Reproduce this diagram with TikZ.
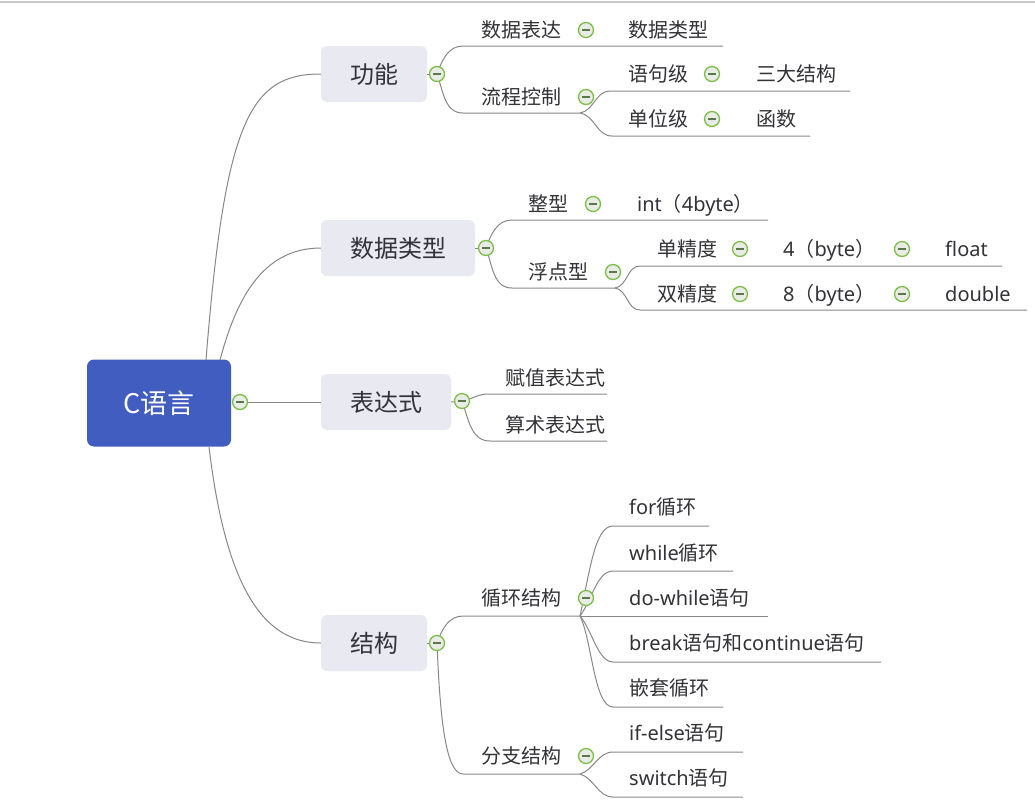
\documentclass[tikz,border=0pt]{standalone}
\usepackage{fontspec}
\setmainfont{Noto Sans CJK SC}
\newfontfamily\lat{Noto Sans}
\definecolor{rootc}{RGB}{64,93,191}
\definecolor{lonec}{RGB}{233,233,242}
\definecolor{txtc}{RGB}{50,50,55}
\definecolor{linec}{RGB}{135,135,135}
\definecolor{ringc}{RGB}{125,190,72}
\definecolor{btnfill}{RGB}{232,235,230}
\definecolor{minusc}{RGB}{90,120,75}
\definecolor{topc}{RGB}{200,200,200}
\begin{document}
\begin{tikzpicture}[x=1pt,y=-1pt,
  root/.style={rectangle, rounded corners=7pt, fill=rootc, text=white, inner sep=0pt,
    minimum width=144pt, minimum height=87pt, font=\fontsize{27}{30}\selectfont},
  lone/.style={rectangle, rounded corners=6pt, fill=lonec, text=txtc, inner sep=0pt,
    minimum height=56pt, font=\fontsize{24}{28}\selectfont},
  ttwo/.style={anchor=west, inner sep=0pt, text=txtc, text height=17.5pt, text depth=2.5pt,
    font=\fontsize{20}{24}\selectfont},
  link/.style={draw=linec, line width=1pt},
  coll/.style={circle, minimum size=15pt, inner sep=0pt, draw=ringc, line width=1.3pt, fill=btnfill,
    path picture={\draw[draw=minusc, line width=1.3pt] ([xshift=-4pt]path picture bounding box.center) -- ([xshift=4pt]path picture bounding box.center);}}
]
\path[use as bounding box] (0,0) rectangle (1035,807);
\coordinate (tl) at (0,2); \coordinate (tr) at (1035,2);
\draw[draw=topc, line width=2pt] (tl) -- (tr);

% root and level one
\node[root] (root) at (159,403) {C语言};
\node[lone, minimum width=106pt] (gn) at (374,74) {功能};
\node[lone, minimum width=154pt] (sj) at (398,248) {数据类型};
\node[lone, minimum width=130pt] (bd) at (386,402) {表达式};
\node[lone, minimum width=106pt] (jg) at (374,643) {结构};

% collapse positions
\coordinate (k0) at (240,402);
\coordinate (k1) at (437,74);
\coordinate (k2) at (486,248);
\coordinate (k3) at (462,401);
\coordinate (k4) at (437,643);

\coordinate (r1) at (206,360);
\coordinate (r2) at (220,360);
\coordinate (r3) at (209,447);
\draw[link] (r1) .. controls (225,120) and (250,74) .. (gn.west);
\draw[link] (r2) .. controls (236,300) and (262,248) .. (sj.west);
\draw[link] (k0) -- (bd.west);
\draw[link] (r3) .. controls (225,580) and (260,643) .. (jg.west);
\draw[link] (gn.east) -- (k1);
\draw[link] (sj.east) -- (k2);
\draw[link] (bd.east) -- (k3);
\draw[link] (jg.east) -- (k4);

% ---- 功能 subtree
\coordinate (u1a) at (463,46);  \coordinate (u1b) at (723,46);
\coordinate (u2a) at (463,113); \coordinate (u2b) at (580,113);
\coordinate (u3a) at (610,91);  \coordinate (u3b) at (850,91);
\coordinate (u4a) at (612,136); \coordinate (u4b) at (810,136);
\draw[link] (k1) to[out=70,in=180] (u1a) -- (u1b);
\draw[link] (k1) to[out=-70,in=180] (u2a) -- (u2b);
\draw[link] (u2b) to[out=10,in=180] (u3a) -- (u3b);
\draw[link] (u2b) to[out=-10,in=180] (u4a) -- (u4b);
\node[ttwo] (a1) at (481,30) {数据表达};
\node[ttwo] (a2) at (628,30) {数据类型};
\node[ttwo] (a3) at (481,97) {流程控制};
\node[ttwo] (a4) at (628,74) {语句级};
\node[ttwo] (a5) at (756,74) {三大结构};
\node[ttwo] (a6) at (628,119) {单位级};
\node[ttwo] (a7) at (756,119) {函数};

% ---- 数据类型 subtree
\coordinate (v1a) at (512,220); \coordinate (v1b) at (768,220);
\coordinate (v2a) at (512,288); \coordinate (v2b) at (615,288);
\coordinate (v3a) at (640,266); \coordinate (v3b) at (1002,266);
\coordinate (v4a) at (640,310); \coordinate (v4b) at (1027,310);
\draw[link] (k2) to[out=70,in=180] (v1a) -- (v1b);
\draw[link] (k2) to[out=-70,in=180] (v2a) -- (v2b);
\draw[link] (v2b) to[out=10,in=180] (v3a) -- (v3b);
\draw[link] (v2b) to[out=-10,in=180] (v4a) -- (v4b);
\node[ttwo] (b1) at (528,204) {整型};
\node[ttwo] (b2) at (637,204) {{\lat int}（{\lat 4byte}）};
\node[ttwo] (b3) at (528,272) {浮点型};
\node[ttwo] (b4) at (657,249) {单精度};
\node[ttwo] (b5) at (783,249) {{\lat 4}（{\lat byte}）};
\node[ttwo] (b6) at (945,249) {\lat float};
\node[ttwo] (b7) at (657,294) {双精度};
\node[ttwo] (b8) at (783,294) {{\lat 8}（{\lat byte}）};
\node[ttwo] (b9) at (945,294) {\lat double};

% ---- 表达式 subtree
\coordinate (w1a) at (488,394); \coordinate (w1b) at (607,394);
\coordinate (w2a) at (490,441); \coordinate (w2b) at (607,441);
\draw[link] (k3) to[out=10,in=180] (w1a) -- (w1b);
\draw[link] (k3) to[out=-70,in=180] (w2a) -- (w2b);
\node[ttwo] (d1) at (505,378) {赋值表达式};
\node[ttwo] (d2) at (505,425) {算术表达式};

% ---- 结构 subtree
\coordinate (x1a) at (463,616); \coordinate (x1b) at (580,616);
\coordinate (x2a) at (463,774); \coordinate (x2b) at (580,774);
\draw[link] (k4) to[out=70,in=180] (x1a) -- (x1b);
\draw[link] (k4) .. controls (440,720) and (446,774) .. (x2a) -- (x2b);
\node[ttwo] (e1) at (481,598) {循环结构};
\node[ttwo] (e2) at (481,756) {分支结构};

\coordinate (f1a) at (613,526); \coordinate (f1b) at (709,526);
\coordinate (f2a) at (613,571); \coordinate (f2b) at (733,571);
\coordinate (f3b) at (768,616);
\coordinate (f4a) at (613,662); \coordinate (f4b) at (881,662);
\coordinate (f5a) at (613,707); \coordinate (f5b) at (723,707);
\coordinate (g1a) at (613,752); \coordinate (g1b) at (743,752);
\coordinate (g2a) at (613,797); \coordinate (g2b) at (743,797);
\draw[link] (x1b) .. controls (590,570) and (595,526) .. (f1a) -- (f1b);
\draw[link] (x1b) .. controls (592,600) and (597,571) .. (f2a) -- (f2b);
\draw[link] (x1b) -- (f3b);
\draw[link] (x1b) .. controls (592,630) and (598,662) .. (f4a) -- (f4b);
\draw[link] (x1b) .. controls (592,640) and (594,707) .. (f5a) -- (f5b);
\draw[link] (x2b) .. controls (594,770) and (598,752) .. (g1a) -- (g1b);
\draw[link] (x2b) .. controls (594,778) and (598,797) .. (g2a) -- (g2b);
\node[ttwo] (h1) at (629,507) {{\lat for}循环};
\node[ttwo] (h2) at (629,553) {{\lat while}循环};
\node[ttwo] (h3) at (629,598) {{\lat do-while}语句};
\node[ttwo] (h4) at (629,643) {{\lat break}语句和{\lat continue}语句};
\node[ttwo] (h5) at (629,688) {嵌套循环};
\node[ttwo] (h6) at (629,733) {{\lat if-else}语句};
\node[ttwo] (h7) at (629,778) {{\lat switch}语句};

% ---- collapse buttons (on top)
\node[coll] (n0) at (k0) {};
\node[coll] (n1) at (k1) {};
\node[coll] (n2) at (k2) {};
\node[coll] (n3) at (k3) {};
\node[coll] (n4) at (k4) {};
\node[coll] (m1) at (586,30) {};
\node[coll] (m2) at (586,97) {};
\node[coll] (m3) at (712,74) {};
\node[coll] (m4) at (712,119) {};
\node[coll] (m5) at (593,204) {};
\node[coll] (m6) at (613,272) {};
\node[coll] (m7) at (740,249) {};
\node[coll] (m8) at (902,249) {};
\node[coll] (m9) at (740,294) {};
\node[coll] (m10) at (902,294) {};
\node[coll] (m11) at (586,598) {};
\node[coll] (m12) at (586,756) {};
\end{tikzpicture}
\end{document}
